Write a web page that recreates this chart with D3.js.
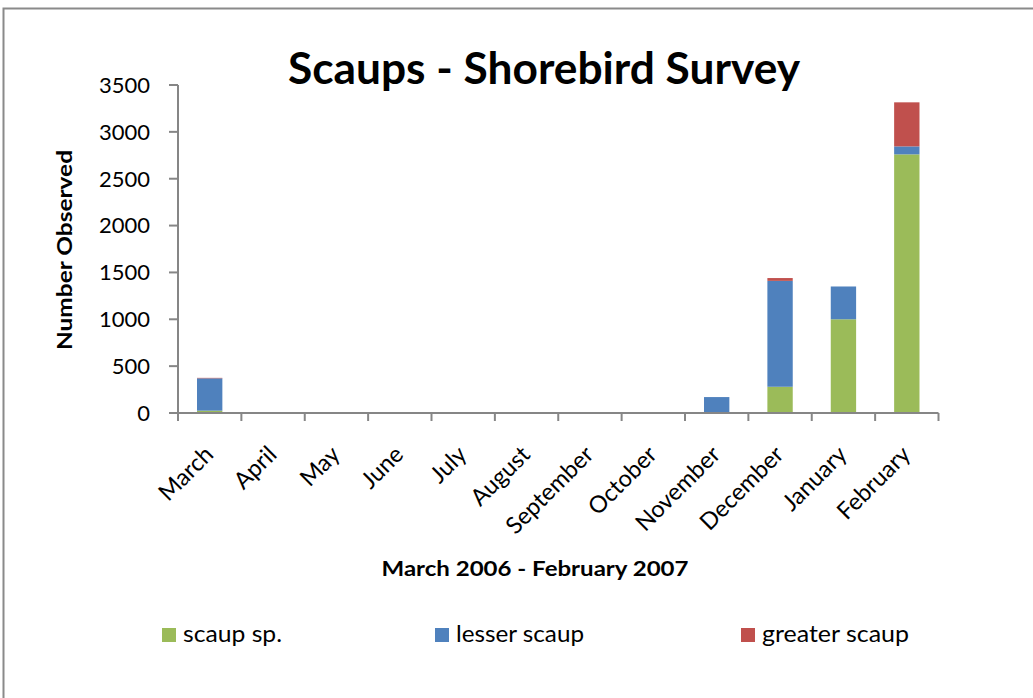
<!DOCTYPE html>
<html><head><meta charset="utf-8">
<script src="https://cdn.jsdelivr.net/npm/d3@7"></script>
<style>body{margin:0;background:#fff}svg{display:block}text{font-family:Lato,"Open Sans",sans-serif;fill:#000}</style>
</head><body><svg id="c" width="1033" height="698"></svg>
<script>
const months = ["March","April","May","June","July","August","September","October","November","December","January","February"];
const scaupSp   = [25,0,0,0,0,0,0,0,0,280,1000,2760];
const lesser    = [345,0,0,0,0,0,0,0,170,1130,350,85];
const greater   = [5,0,0,0,0,0,0,0,0,30,0,470];
const seriesNames = ["scaup sp.","lesser scaup","greater scaup"];
const seriesColors = ["#9BBB59","#4F81BD","#C0504D"];
const yTicks = [0,500,1000,1500,2000,2500,3000,3500];

(function(){
const svg = d3.select("#c");
svg.append("rect").attr("x",3.5).attr("y",8.5).attr("width",1100).attr("height",800)
  .attr("fill","#fff").attr("stroke","#8a8a8a").attr("stroke-width",2);

const pLeft=178, pRight=938.5, pTop=85, pBottom=413;
const x = d3.scaleBand().domain(months).range([pLeft,pRight]).paddingInner(0.6).paddingOuter(0.3);
const y = d3.scaleLinear().domain([0,3500]).range([pBottom,pTop]);

const rows = months.map((m,i)=>({month:m, "scaup sp.":scaupSp[i], "lesser scaup":lesser[i], "greater scaup":greater[i]}));
const stack = d3.stack().keys(seriesNames)(rows);

const g = svg.append("g");
stack.forEach((s,si)=>{
  g.selectAll(null).data(s).enter().append("rect")
    .attr("x",d=>x(d.data.month)).attr("width",x.bandwidth())
    .attr("y",d=>y(d[1])).attr("height",d=>y(d[0])-y(d[1]))
    .attr("fill",seriesColors[si]);
});

const axisColor="#868686";
svg.append("line").attr("x1",pLeft).attr("x2",pLeft).attr("y1",pTop).attr("y2",pBottom).attr("stroke",axisColor).attr("stroke-width",2);
yTicks.forEach(t=>{
  svg.append("line").attr("x1",pLeft-9).attr("x2",pLeft).attr("y1",y(t)).attr("y2",y(t)).attr("stroke",axisColor).attr("stroke-width",2);
  svg.append("text").attr("x",150).attr("y",y(t)).attr("dy","0.36em").attr("text-anchor","end")
    .style("font-size","22px").text(t);
});
svg.append("line").attr("x1",pLeft).attr("x2",pRight).attr("y1",pBottom).attr("y2",pBottom).attr("stroke",axisColor).attr("stroke-width",2);
const step = x.step();
d3.range(months.length+1).forEach(i=>{
  const xx = pLeft + i*step;
  svg.append("line").attr("x1",xx).attr("x2",xx).attr("y1",pBottom).attr("y2",pBottom+8).attr("stroke",axisColor).attr("stroke-width",2);
});
months.forEach(m=>{
  const cx = x(m)+x.bandwidth()/2;
  svg.append("text").attr("transform",`translate(${cx+5},${456}) rotate(-45)`)
    .attr("text-anchor","end").style("font-size","23.5px").text(m);
});

svg.append("text").attr("x",544).attr("y",84).attr("text-anchor","middle")
  .style("font-size","43px").style("font-weight","bold").attr("textLength",512).attr("lengthAdjust","spacingAndGlyphs")
  .text("Scaups - Shorebird Survey");
svg.append("text").attr("x",535).attr("y",576).attr("text-anchor","middle")
  .style("font-size","21px").style("font-weight","bold").attr("textLength",307).attr("lengthAdjust","spacingAndGlyphs")
  .text("March 2006 - February 2007");
svg.append("text").attr("transform","translate(72,250) rotate(-90)").attr("text-anchor","middle")
  .style("font-size","21px").style("font-weight","bold").attr("textLength",200).attr("lengthAdjust","spacingAndGlyphs")
  .text("Number Observed");

const legX=[162,435,741];
const legLen=[99,128,147];
seriesNames.forEach((n,i)=>{
  svg.append("rect").attr("x",legX[i]).attr("y",628).attr("width",14).attr("height",14).attr("fill",seriesColors[i]);
  svg.append("text").attr("x",legX[i]+21).attr("y",642).style("font-size","23px")
    .attr("textLength",legLen[i]).attr("lengthAdjust","spacingAndGlyphs").text(n);
});
})();
</script></body></html>
